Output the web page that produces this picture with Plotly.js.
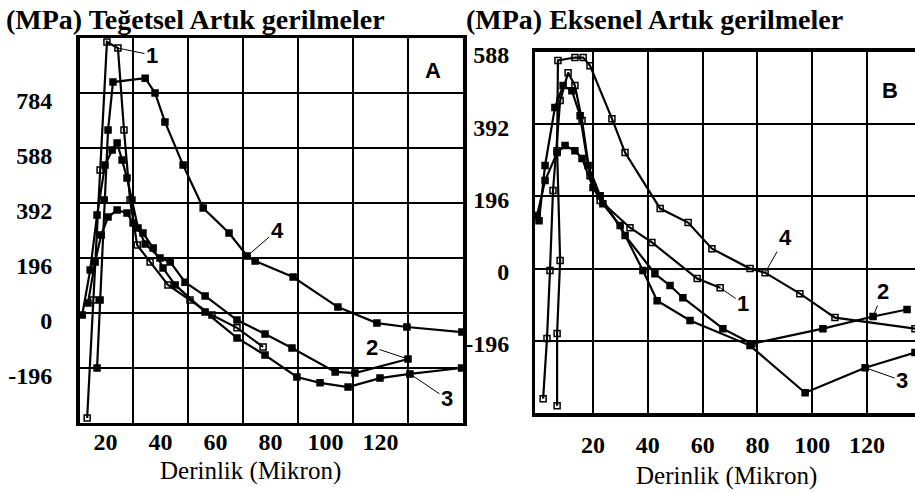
<!DOCTYPE html>
<html><head><meta charset="utf-8">
<script src="https://cdn.plot.ly/plotly-3.0.1.min.js"></script>
<style>html,body{margin:0;padding:0;background:#fff}#chart{width:915px;height:493px}</style>
</head><body><div id="chart"></div>
<script>
// ---- Panel A: Teğetsel (tangential) residual stresses ----
const aDepth1  = [13.3, 15.5, 18.0, 20.5, 24.5, 26.7, 28.9, 31.5, 36.2, 42.7, 50.7, 58.7, 67.8, 77.3];
const aStress1 = [-374, 46, 510, 966, 944, 652, 403, 242, 182, 100, 46, -7, -53, -121];
const aDepth2  = [11.5, 14.4, 16.9, 19.8, 22.4, 24.2, 26.0, 27.8, 29.6, 31.8, 34.4, 39.8, 43.5, 48.9, 56.2, 67.8, 78.0, 87.8, 103.5, 110.7, 130.0];
const aStress2 = [-7, 153, 349, 527, 581, 606, 545, 481, 403, 303, 246, 196, 182, 110, 61, -25, -75, -125, -210, -214, -164];
const aDepth3  = [13.6, 16.2, 18.4, 20.9, 24.2, 27.8, 30.0, 33.6, 37.3, 40.9, 45.3, 56.2, 67.8, 78.0, 89.6, 98.0, 108.2, 119.8, 130.7, 149.5];
const aStress3 = [36, 182, 278, 342, 367, 356, 321, 285, 232, 160, 100, 4, -89, -150, -228, -249, -264, -232, -217, -196];
const aDepth4  = [16.9, 18.0, 19.5, 20.9, 22.7, 34.4, 38.0, 41.6, 48.2, 55.5, 64.9, 71.5, 74.4, 88.2, 104.5, 118.7, 129.6, 149.6];
const aStress4 = [-196, 46, 403, 652, 823, 837, 784, 681, 527, 374, 285, 203, 185, 128, 21, -36, -50, -68];

// ---- Panel B: Eksenel (axial) residual stresses ----
const bDepth1  = [1.8, 3.2, 4.3, 5.4, 8.0, 10.9, 13.4, 16.0, 18.9, 22.6, 33.5, 41.5, 58.0, 66.4];
const bStress1 = [-353, -190, -5, 212, 456, 532, 497, 402, 252, 185, 111, 71, -27, -52];
const bDepth2  = [0.3, 2.5, 6.1, 9.1, 12.3, 15.3, 18.2, 22.6, 31.7, 42.6, 48.1, 52.8, 67.4, 78.0, 103.9, 122.2, 134.6];
const bStress2 = [130, 280, 437, 497, 483, 415, 280, 198, 90, -14, -46, -79, -163, -204, -163, -130, -111];
const bDepth3  = [-0.4, 2.5, 6.9, 9.8, 13.4, 16.0, 20.0, 23.6, 29.9, 38.2, 43.4, 55.4, 77.3, 97.4, 119.3, 137.5];
const bStress3 = [144, 239, 315, 334, 320, 299, 220, 176, 117, -5, -87, -141, -209, -337, -269, -228];
const bDepth4  = [6.9, 6.9, 8.0, 6.9, 7.2, 13.4, 16.4, 18.9, 26.9, 31.7, 44.5, 54.7, 63.4, 77.3, 82.8, 95.5, 108.3, 137.5];
const bStress4 = [-372, -176, 22, 320, 565, 573, 573, 551, 407, 315, 163, 125, 54, 0, -11, -68, -133, -163];

// ---- tick labels / text ----
const xTicks = [20, 40, 60, 80, 100, 120];
const aYTicks = [-196, 0, 196, 392, 588, 784];
const aYLabels = ['-196', '0', '196', '392', '588', '784'];
const bYTicks = [-196, 0, 196, 392, 588];
const bYLabels = ['-196', '0', '196', '392', '588'];
const titleA = '(MPa) Teğetsel Artık gerilmeler';
const titleB = '(MPa) Eksenel Artık gerilmeler';
const xTitle = 'Derinlik (Mikron)';

const SERIF = 'Liberation Serif';
const SANS = 'Liberation Sans';
const tickFont = {family: SERIF, size: 24, color: '#000', weight: 'bold'};
const numFont = {family: SANS, size: 22, color: '#000', weight: 'bold'};
const titleFont = {family: SERIF, size: 28, color: '#000', weight: 'bold'};
const xTitleFont = {family: SERIF, size: 25, color: '#000'};

function tr(x, y, xa, ya, open) {
  return {x: x, y: y, xaxis: xa, yaxis: ya, type: 'scatter', mode: 'lines+markers',
    line: {color: '#000', width: 2.2},
    marker: {symbol: open ? 'square-open' : 'square', size: 6, color: '#000', line: {color: '#000', width: 1.5}},
    showlegend: false, hoverinfo: 'skip'};
}
const data = [
  tr(aDepth1, aStress1, 'x', 'y', true),
  tr(aDepth2, aStress2, 'x', 'y', false),
  tr(aDepth3, aStress3, 'x', 'y', false),
  tr(aDepth4, aStress4, 'x', 'y', false),
  tr(bDepth1, bStress1, 'x2', 'y2', true),
  tr(bDepth2, bStress2, 'x2', 'y2', false),
  tr(bDepth3, bStress3, 'x2', 'y2', false),
  tr(bDepth4, bStress4, 'x2', 'y2', true)
];

function lbl(text, xa, ya, x, y, ax, ay) {
  return {text: text, xref: xa, yref: ya, x: x, y: y, ax: ax, ay: ay, showarrow: true,
    arrowhead: 0, arrowwidth: 1, arrowcolor: '#000', font: numFont};
}
const annotations = [
  {text: titleA, xref: 'paper', yref: 'paper', x: 0.004, y: 0.96, xanchor: 'left', yanchor: 'middle', showarrow: false, font: titleFont},
  {text: titleB, xref: 'paper', yref: 'paper', x: 0.507, y: 0.96, xanchor: 'left', yanchor: 'middle', showarrow: false, font: titleFont},
  {text: xTitle, xref: 'paper', yref: 'paper', x: 0.2743, y: 0.045, xanchor: 'center', yanchor: 'middle', showarrow: false, font: xTitleFont},
  {text: xTitle, xref: 'paper', yref: 'paper', x: 0.7945, y: 0.035, xanchor: 'center', yanchor: 'middle', showarrow: false, font: xTitleFont},
  {text: 'A', xref: 'paper', yref: 'paper', x: 0.473, y: 0.858, xanchor: 'center', yanchor: 'middle', showarrow: false, font: numFont},
  {text: 'B', xref: 'paper', yref: 'paper', x: 0.9727, y: 0.8174, xanchor: 'center', yanchor: 'middle', showarrow: false, font: numFont},
  lbl('1', 'x', 'y', aDepth1[4], aStress1[4], 34, 7),
  lbl('4', 'x', 'y', aDepth4[11], aStress4[11], 30, -26),
  lbl('2', 'x', 'y', aDepth2[20], aStress2[20], -36, -12),
  lbl('3', 'x', 'y', aDepth3[18], aStress3[18], 37, 25),
  lbl('4', 'x2', 'y2', bDepth4[14], bStress4[14], 20, -35),
  lbl('1', 'x2', 'y2', bDepth1[13], bStress1[13], 23, 16),
  lbl('2', 'x2', 'y2', bDepth2[15], bStress2[15], 10, -25),
  lbl('3', 'x2', 'y2', bDepth3[14], bStress3[14], 37, 13)
];

const layout = {
  width: 915, height: 493, margin: {l: 0, r: 0, t: 0, b: 0},
  paper_bgcolor: '#fff', plot_bgcolor: '#fff', showlegend: false,
  font: {family: SERIF, color: '#000'},
  xaxis: {domain: [80/915, 463/915], range: [10.7, 150], tickvals: xTicks, ticks: '', showgrid: false,
    minor: {tick0: 10, dtick: 20, showgrid: true, gridcolor: '#000', gridwidth: 2, ticks: ''},
    showline: true, linecolor: '#000', linewidth: 3, mirror: true, zeroline: false,
    tickfont: tickFont, ticklabelstandoff: -5, anchor: 'y'},
  yaxis: {domain: [70/493, 455/493], range: [-392, 980], tickvals: aYTicks, ticktext: aYLabels, ticks: '',
    showgrid: true, gridcolor: '#000', gridwidth: 2, zeroline: false,
    showline: true, linecolor: '#000', linewidth: 4, mirror: true,
    tickfont: tickFont, ticklabelstandoff: 19, ticklabelshift: 8, anchor: 'x'},
  xaxis2: {domain: [535/915, 1], range: [-1.17, 137.5], tickvals: xTicks, ticks: '',
    showgrid: true, gridcolor: '#000', gridwidth: 2, zeroline: false,
    showline: true, linecolor: '#000', linewidth: 4, mirror: true,
    tickfont: tickFont, ticklabelstandoff: 7, anchor: 'y2'},
  yaxis2: {domain: [80/493, 441/493], range: [-392, 588], tickvals: bYTicks, ticktext: bYLabels, ticks: '',
    showgrid: true, gridcolor: '#000', gridwidth: 2, zeroline: false,
    showline: true, linecolor: '#000', linewidth: 3, mirror: false,
    tickfont: tickFont, ticklabelstandoff: 18, ticklabelshift: 3, anchor: 'x2'},
  annotations: annotations
};
Plotly.newPlot('chart', data, layout, {staticPlot: true, displayModeBar: false});
</script></body></html>
